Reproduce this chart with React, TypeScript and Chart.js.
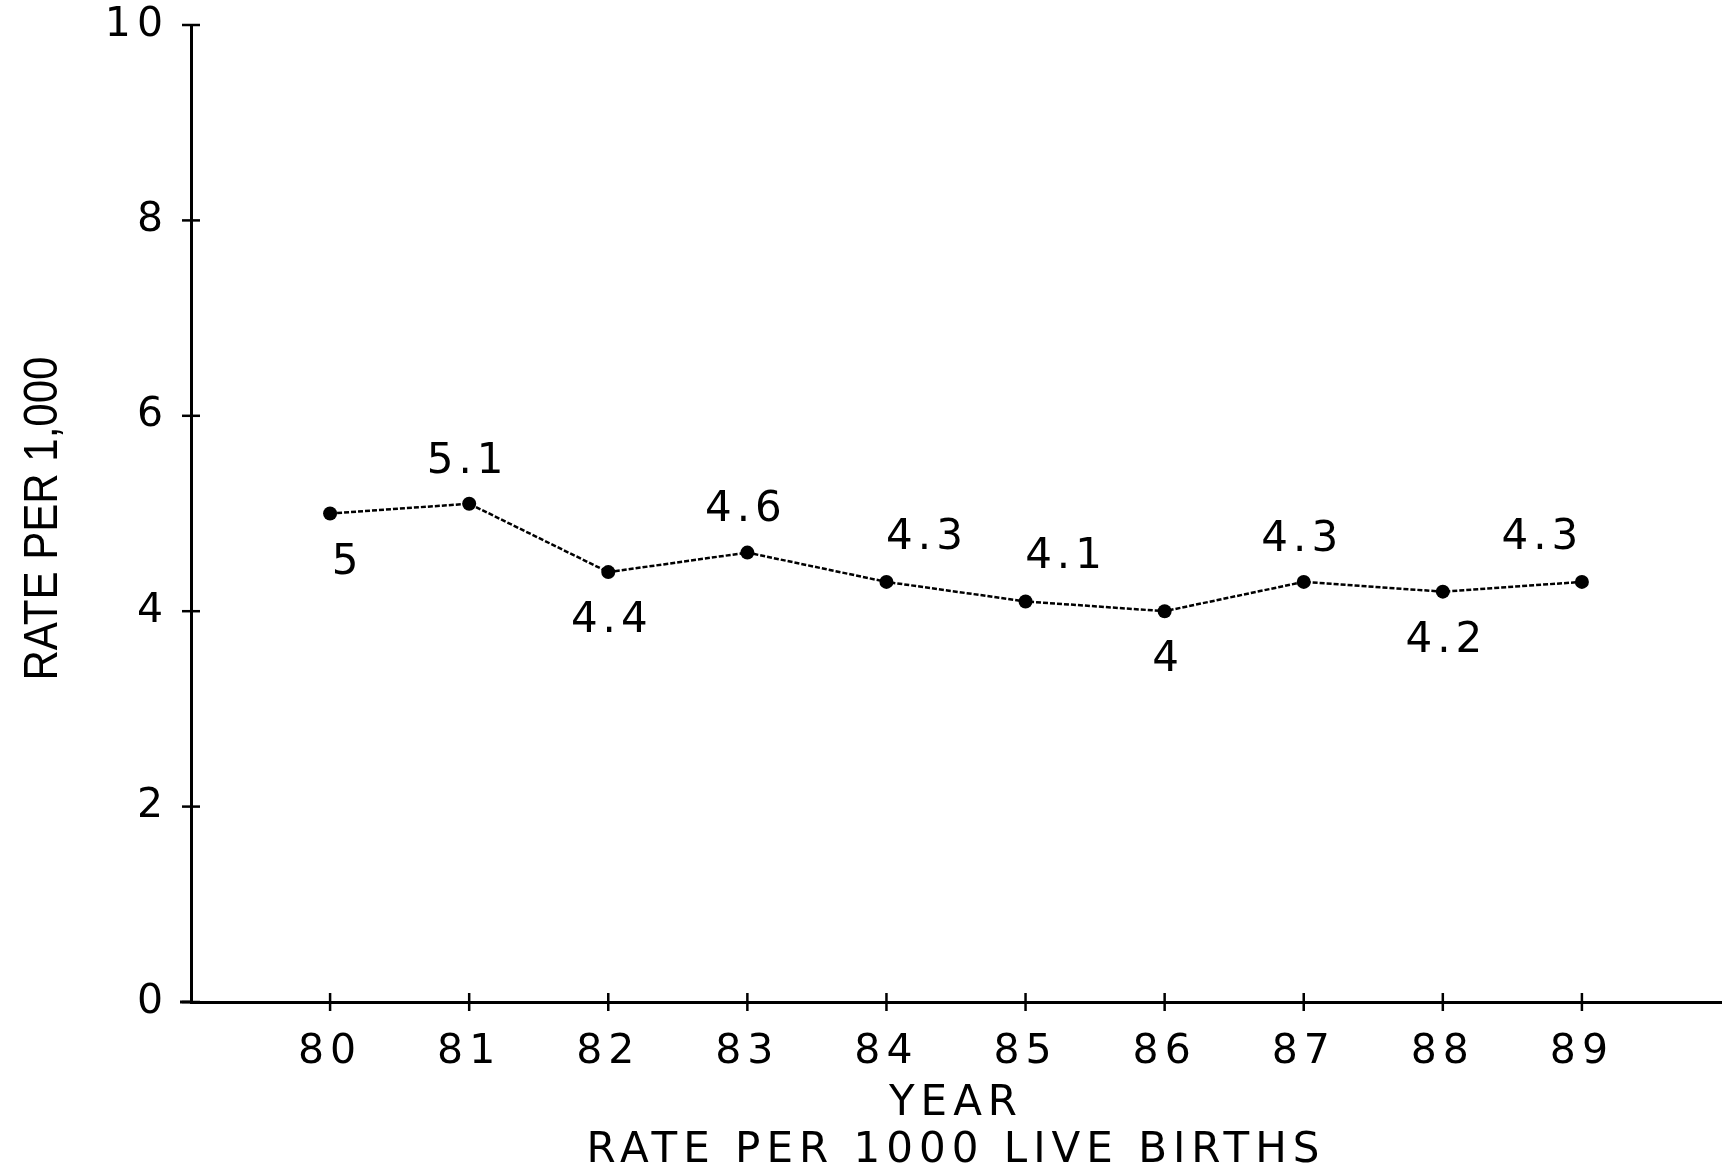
import React, { useEffect, useRef } from "react";
import { Chart, registerables } from "chart.js";

Chart.register(...registerables);

// ---- data ----
const years = [80, 81, 82, 83, 84, 85, 86, 87, 88, 89];
const rates = [5, 5.1, 4.4, 4.6, 4.3, 4.1, 4, 4.3, 4.2, 4.3];
const valueLabels = ["5", "5.1", "4.4", "4.6", "4.3", "4.1", "4", "4.3", "4.2", "4.3"];
const labelPlacement = [
  "belowRight",
  "above",
  "below",
  "above",
  "aboveRight",
  "aboveRight",
  "below",
  "above",
  "below",
  "aboveLeft",
];
const yTickValues = [0, 2, 4, 6, 8, 10];
const xTitleLines = ["YEAR", "RATE PER 1000 LIVE BIRTHS"];
const yTitleText = "RATE PER 1,000";

// ---- styles ----
const placementOffsets: Record<string, [number, number]> = {
  belowRight: [15, 50],
  above: [-4, -42],
  below: [1, 49],
  aboveRight: [38, -44],
  aboveLeft: [-42, -44],
};
const INK = "#000000";
const TEXT_FONT = "'DejaVu Sans', 'Liberation Sans', Arial, sans-serif";

const paperPlugin = {
  id: "paperPlugin",
  beforeDraw(chart: any) {
    chart.ctx.letterSpacing = "6px";
  },
  afterDatasetsDraw(chart: any) {
    const ctx = chart.ctx;
    const xs = chart.scales.x;
    const ys = chart.scales.y;
    ctx.save();
    ctx.letterSpacing = "5px";
    ctx.font = `42px ${TEXT_FONT}`;
    ctx.fillStyle = INK;
    ctx.textAlign = "center";
    ctx.textBaseline = "middle";
    valueLabels.forEach((lab, i) => {
      const [dx, dy] = placementOffsets[labelPlacement[i]];
      const px = xs.getPixelForValue(years[i]);
      const py = ys.getPixelForValue(rates[i]);
      ctx.fillText(lab, px + dx + 2.5, py + dy);
    });
    ctx.restore();
  },
  afterDraw(chart: any) {
    const ctx = chart.ctx;
    const xs = chart.scales.x;
    const ys = chart.scales.y;
    const area = chart.chartArea;
    ctx.save();
    ctx.strokeStyle = INK;
    ctx.lineWidth = 2.5;
    // crossing tick marks on the y axis
    yTickValues.forEach((v) => {
      const y = ys.getPixelForValue(v);
      ctx.beginPath();
      ctx.moveTo(area.left - 9, y);
      ctx.lineTo(area.left + 9, y);
      ctx.stroke();
    });
    // crossing tick marks on the x axis
    years.forEach((v) => {
      const x = xs.getPixelForValue(v);
      ctx.beginPath();
      ctx.moveTo(x, area.bottom - 9);
      ctx.lineTo(x, area.bottom + 9);
      ctx.stroke();
    });
    // small extension of the x axis left of the y axis
    ctx.lineWidth = 3;
    ctx.beginPath();
    ctx.moveTo(area.left - 11, area.bottom);
    ctx.lineTo(area.left, area.bottom);
    ctx.stroke();

    // rotated, condensed y-axis title
    ctx.letterSpacing = "0px";
    ctx.font = `49px 'Liberation Sans', Arial, sans-serif`;
    const w = ctx.measureText(yTitleText).width;
    const targetLen = 324;
    ctx.translate(43, (ys.getPixelForValue(10) + ys.getPixelForValue(0)) / 2 + 5);
    ctx.rotate(-Math.PI / 2);
    ctx.scale(targetLen / w, 1);
    ctx.fillStyle = INK;
    ctx.textAlign = "center";
    ctx.textBaseline = "middle";
    ctx.fillText(yTitleText, 0, 0);
    ctx.restore();
    ctx.letterSpacing = "0px";
  },
};

export default function App() {
  const canvasRef = useRef<HTMLCanvasElement | null>(null);

  useEffect(() => {
    const canvas = canvasRef.current;
    if (!canvas) return;
    const chart = new Chart(canvas, {
      type: "line",
      data: {
        datasets: [
          {
            data: years.map((yr, i) => ({ x: yr, y: rates[i] })),
            borderColor: INK,
            borderWidth: 2.5,
            borderDash: [5, 2],
            tension: 0,
            pointRadius: 7,
            pointHoverRadius: 7,
            pointBackgroundColor: INK,
            pointBorderWidth: 0,
            fill: false,
          },
        ],
      },
      options: {
        animation: false,
        responsive: false,
        devicePixelRatio: 1,
        events: [],
        layout: { padding: { top: 25, right: 0, bottom: 0, left: 0 } },
        plugins: {
          legend: { display: false },
          tooltip: { enabled: false },
          title: { display: false },
        },
        scales: {
          x: {
            type: "linear",
            min: 79,
            max: 90,
            afterBuildTicks: (scale: any) => {
              scale.ticks = years.map((v) => ({ value: v }));
            },
            afterFit: (scale: any) => {
              scale.height = 165;
              scale.paddingLeft = 0;
              scale.paddingRight = 0;
            },
            grid: { display: true, drawOnChartArea: false, drawTicks: false },
            border: { display: true, color: INK, width: 3 },
            ticks: {
              autoSkip: false,
              maxRotation: 0,
              padding: 26,
              color: INK,
              font: { family: TEXT_FONT, size: 41 },
              callback: (v: any) => String(v),
            },
            title: {
              display: true,
              text: xTitleLines,
              color: INK,
              font: { family: TEXT_FONT, size: 42, lineHeight: "47px" },
              padding: { top: 0, bottom: -8 },
            },
          },
          y: {
            type: "linear",
            min: 0,
            max: 10,
            afterBuildTicks: (scale: any) => {
              scale.ticks = yTickValues.map((v) => ({ value: v }));
            },
            afterFit: (scale: any) => {
              scale.width = 191;
              scale.paddingTop = 0;
              scale.paddingBottom = 0;
            },
            grid: { display: true, drawOnChartArea: false, drawTicks: false },
            border: { display: true, color: INK, width: 3 },
            ticks: {
              padding: 22,
              color: INK,
              font: { family: TEXT_FONT, size: 41 },
              callback: (v: any) => String(v),
            },
            title: { display: false },
          },
        },
      },
      plugins: [paperPlugin],
    } as any);
    return () => {
      chart.destroy();
    };
  }, []);

  return (
    <div
      style={{
        position: "absolute",
        left: 0,
        top: 0,
        width: 1728,
        height: 1167,
        background: "#ffffff",
      }}
    >
      <canvas ref={canvasRef} width={1728} height={1167} style={{ display: "block" }} />
    </div>
  );
}
